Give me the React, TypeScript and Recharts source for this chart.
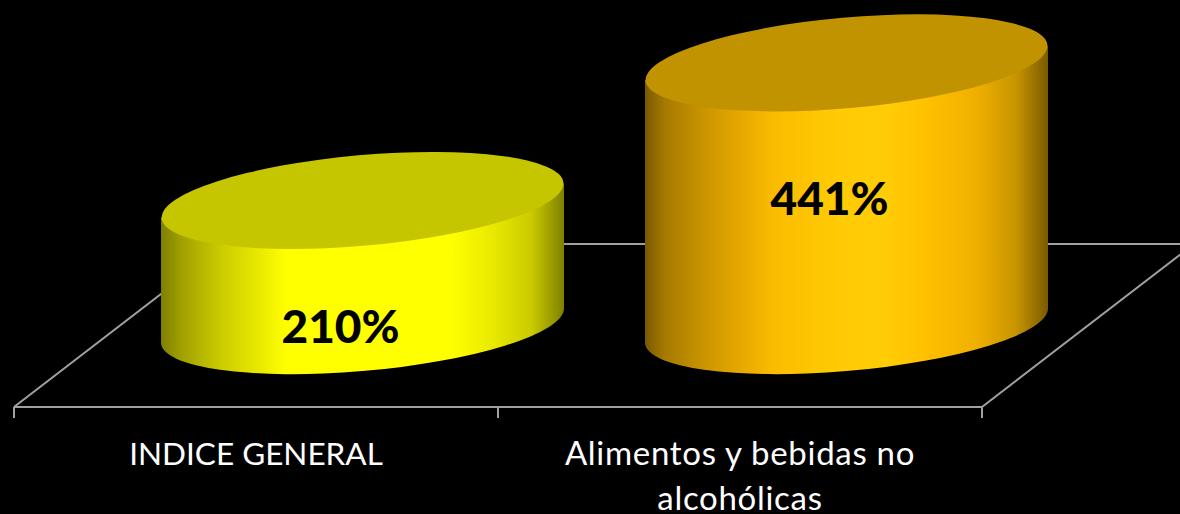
import React from 'react';
import { BarChart, Bar, XAxis, YAxis, LabelList, usePlotArea } from 'recharts';

const categories = ['INDICE GENERAL', 'Alimentos y bebidas no alcohólicas'];
const categoryLines = [['INDICE GENERAL'], ['Alimentos y bebidas no', 'alcohólicas']];
const increases = [210, 441];

const rows = categories.map((name, i) => ({ name, value: increases[i] }));

// floor of the fake 3D box: back edge sits this far from the front edge
const DEPTH_X = 212;
const DEPTH_Y = 163;
const LINE = '#a0a0a0';

const RX = 201.7;
const RY = 45.3;
const TILT = -5.09;
const TANGENT_DY = 17;

const topColors = ['#c6c600', '#c29300'];
// hand placed labels, like the original slide
const labelNudge = [{ dx: -22, dy: 63 }, { dx: -17, dy: 3 }];
// Lato has bigger caps than the slide font, so the mixed case label runs a bit larger
const tickFonts = [{ fontSize: 31.5, letterSpacing: 0 }, { fontSize: 33, letterSpacing: 0.7 }];

const Floor = () => {
  const plot = usePlotArea();
  if (!plot) return null;
  const left = plot.x;
  const right = plot.x + plot.width;
  const front = plot.y + plot.height;
  const back = front - DEPTH_Y;
  const dividers = [left, left + plot.width / 2, right];
  return (
    <g stroke={LINE} strokeWidth={2} fill="none">
      <line x1={left} y1={front} x2={left + DEPTH_X} y2={back} />
      <line x1={right} y1={front} x2={right + DEPTH_X} y2={back} />
      <line x1={left + DEPTH_X} y1={back} x2={right + DEPTH_X} y2={back} />
      {dividers.map((x) => (
        <line key={x} x1={x} y1={front} x2={x} y2={front + 11} />
      ))}
    </g>
  );
};

const Cylinder = (props: any) => {
  const { x, y, width, height, index } = props;
  const cx = x + width / 2 + DEPTH_X / 2;
  const top = y - DEPTH_Y / 2;
  const bottom = top + height;
  const half = width / 2;
  const side = `M${cx - half} ${top + TANGENT_DY} L${cx - half} ${bottom + TANGENT_DY} A${RX} ${RY} ${TILT} 0 0 ${cx + half} ${bottom - TANGENT_DY} L${cx + half} ${top - TANGENT_DY} Z`;
  return (
    <g>
      <path d={side} fill={`url(#side${index})`} />
      <ellipse cx={cx} cy={top} rx={RX} ry={RY} transform={`rotate(${TILT} ${cx} ${top})`} fill={topColors[index]} />
    </g>
  );
};

const ValueLabel = (props: any) => {
  const { x, y, width, height, value, index } = props;
  const nudge = labelNudge[index];
  return (
    <text
      x={x + width / 2 + DEPTH_X / 2 + nudge.dx}
      y={y + height / 2 - DEPTH_Y / 2 + nudge.dy}
      textAnchor="middle"
      dominantBaseline="central"
      fill="#000"
      fontFamily="Lato"
      fontWeight={900}
      fontSize={46}
    >
      {value}%
    </text>
  );
};

const CategoryTick = (props: any) => {
  const { x, y, index } = props;
  return (
    <text x={x} y={y + 52} textAnchor="middle" fill="#fff" fontFamily="Lato" {...tickFonts[index]}>
      {categoryLines[index].map((line, i) => (
        <tspan key={line} x={x} dy={i === 0 ? 0 : 45}>
          {line}
        </tspan>
      ))}
    </text>
  );
};

export default function App() {
  return (
    <div style={{ position: 'absolute', left: 0, top: 0, width: 1180, height: 514, background: '#000', overflow: 'hidden' }}>
      <BarChart width={1180} height={514} data={rows} margin={{ top: 49.7, right: 198, bottom: 0, left: 14 }} barSize={403}>
        <defs>
          <linearGradient id="side0" x1="0" y1="0" x2="1" y2="0">
            <stop offset="0" stopColor="#7f7f00" />
            <stop offset="0.05" stopColor="#a0a000" />
            <stop offset="0.15" stopColor="#cccc00" />
            <stop offset="0.28" stopColor="#f5f500" />
            <stop offset="0.31" stopColor="#ffff00" />
            <stop offset="0.72" stopColor="#ffff00" />
            <stop offset="0.82" stopColor="#eaea00" />
            <stop offset="0.92" stopColor="#caca00" />
            <stop offset="1" stopColor="#7f7f00" />
          </linearGradient>
          <linearGradient id="side1" x1="0" y1="0" x2="1" y2="0">
            <stop offset="0" stopColor="#7a5a00" />
            <stop offset="0.05" stopColor="#a67a00" />
            <stop offset="0.15" stopColor="#cc9600" />
            <stop offset="0.25" stopColor="#eaab00" />
            <stop offset="0.32" stopColor="#fbbc00" />
            <stop offset="0.48" stopColor="#ffcb04" />
            <stop offset="0.6" stopColor="#ffcc05" />
            <stop offset="0.7" stopColor="#ffc000" />
            <stop offset="0.82" stopColor="#f0b000" />
            <stop offset="0.92" stopColor="#c89500" />
            <stop offset="1" stopColor="#7a5a00" />
          </linearGradient>
        </defs>
        <Floor />
        <XAxis
          dataKey="name"
          height={107}
          interval={0}
          axisLine={{ stroke: LINE, strokeWidth: 2 }}
          tickLine={false}
          tickMargin={0}
          tick={CategoryTick}
        />
        <YAxis hide domain={[0, 600]} />
        <Bar dataKey="value" shape={Cylinder} isAnimationActive={false}>
          <LabelList dataKey="value" content={ValueLabel} />
        </Bar>
      </BarChart>
    </div>
  );
}
